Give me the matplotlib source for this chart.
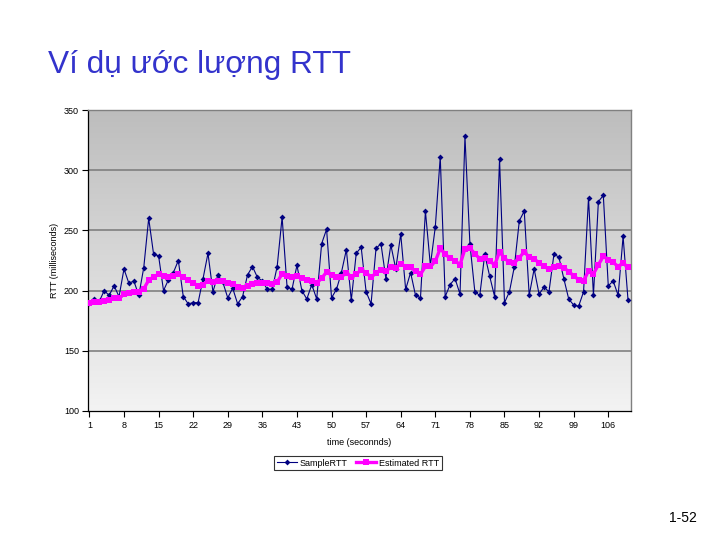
import numpy as np
import matplotlib
matplotlib.use("Agg")
import matplotlib.pyplot as plt
from matplotlib.colors import LinearSegmentedColormap

plt.rcParams['font.family'] = ['Liberation Sans', 'DejaVu Sans']

title = "Ví dụ ước lượng RTT"
page_no = "1-52"
x_label = "time (seconnds)"
y_label = "RTT (milliseconds)"

sample_rtt = [
    190, 193, 191, 200, 196, 204, 195, 218, 206, 208,
    196, 219, 260, 230, 229, 200, 209, 215, 225, 195,
    189, 190, 190, 210, 231, 199, 213, 207, 194, 202,
    189, 195, 213, 220, 211, 208, 201, 201, 220, 261,
    203, 201, 221, 200, 193, 205, 193, 239, 251, 194,
    201, 215, 234, 192, 231, 236, 199, 189, 235, 239,
    210, 238, 218, 247, 201, 215, 196, 194, 266, 221,
    253, 311, 195, 205, 210, 197, 328, 239, 199, 196,
    230, 212, 195, 309, 190, 199, 220, 258, 266, 196,
    218, 197, 203, 199, 230, 228, 210, 193, 188, 187,
    199, 277, 196, 274, 279, 204, 208, 196, 245, 192,
]

estimated_rtt = [
    190.0, 190.4, 190.5, 191.7, 192.2, 193.7, 193.8, 196.8, 198.0, 199.2,
    198.8, 201.4, 208.7, 211.4, 213.6, 211.9, 211.5, 212.0, 213.6, 211.3,
    208.5, 206.2, 204.2, 204.9, 208.2, 207.0, 207.8, 207.7, 206.0, 205.5,
    203.4, 202.4, 203.7, 205.7, 206.4, 206.6, 205.9, 205.3, 207.1, 213.9,
    212.5, 211.1, 212.3, 210.8, 208.6, 208.1, 206.2, 210.3, 215.4, 212.7,
    211.3, 211.7, 214.5, 211.7, 214.1, 216.8, 214.6, 211.4, 214.3, 217.4,
    216.5, 219.2, 219.0, 222.5, 219.8, 219.2, 216.3, 213.5, 220.1, 220.2,
    224.3, 235.1, 230.1, 227.0, 224.9, 221.4, 234.7, 235.2, 230.7, 226.4,
    226.8, 225.0, 221.2, 232.2, 226.9, 223.4, 223.0, 227.4, 232.2, 227.7,
    226.5, 222.8, 220.3, 217.6, 219.2, 220.3, 219.0, 215.8, 212.3, 209.1,
    207.9, 216.5, 213.9, 221.4, 228.6, 225.6, 223.4, 220.0, 223.1, 219.2,
]

time_s = list(range(1, len(sample_rtt) + 1))
x_ticks = list(range(1, 107, 7))
y_ticks = [100, 150, 200, 250, 300, 350]

fig = plt.figure(figsize=(7.2, 5.4), dpi=100)
fig.patch.set_facecolor("white")

ax = fig.add_axes([88 / 720, 1 - 411 / 540, 543 / 720, 301 / 540])

# gradient background
grad = np.linspace(0, 1, 256).reshape(-1, 1)
cmap = LinearSegmentedColormap.from_list("bg", ["#BDBDBD", "#F3F3F3"])
ax.imshow(grad, extent=[0, 1, 0, 1], transform=ax.transAxes, aspect="auto",
          cmap=cmap, zorder=0, origin="upper")

for yv in y_ticks[1:-1]:
    ax.axhline(yv, color="#808080", lw=1.2, zorder=1)

ax.plot(time_s, sample_rtt, color="#000080", lw=0.8, marker="D",
        markersize=3.0, markeredgewidth=0, zorder=3, label="SampleRTT")
ax.plot(time_s, estimated_rtt, color="#FF00FF", lw=2.4, marker="s",
        markersize=4.0, markeredgewidth=0, zorder=4, label="Estimated RTT")

ax.set_xlim(0.72, 110.6)
ax.set_ylim(100, 350)
ax.set_xticks(x_ticks)
ax.set_xticklabels([str(t) for t in x_ticks])
ax.set_yticks(y_ticks)
ax.tick_params(axis="both", labelsize=6.5, colors="black", length=4,
               width=0.8, direction="out", pad=3)
ax.tick_params(axis="y", pad=2.5)

for side in ["top", "right"]:
    ax.spines[side].set_color("#808080")
    ax.spines[side].set_linewidth(1.0)
for side in ["left", "bottom"]:
    ax.spines[side].set_color("black")
    ax.spines[side].set_linewidth(0.9)

ax.set_xlabel(x_label, fontsize=6.5, labelpad=6)
ax.set_ylabel(y_label, fontsize=6.5)
ax.yaxis.set_label_coords(-0.053, 0.5)

leg = fig.legend(loc="center", bbox_to_anchor=(358 / 720, 1 - 463 / 540),
                 ncol=2, fontsize=6.5, frameon=True, fancybox=False,
                 handlelength=2.2, columnspacing=1.0, handletextpad=0.3,
                 borderpad=0.3)
leg.get_frame().set_edgecolor("black")
leg.get_frame().set_linewidth(0.8)

fig.text(48 / 720, 1 - 65 / 540, title, fontsize=22.8, color="#3333CC",
         ha="left", va="center")
fig.text(697 / 720, 1 - 518 / 540, page_no, fontsize=10, color="black",
         ha="right", va="center")

fig.savefig("out.png", dpi=100)
